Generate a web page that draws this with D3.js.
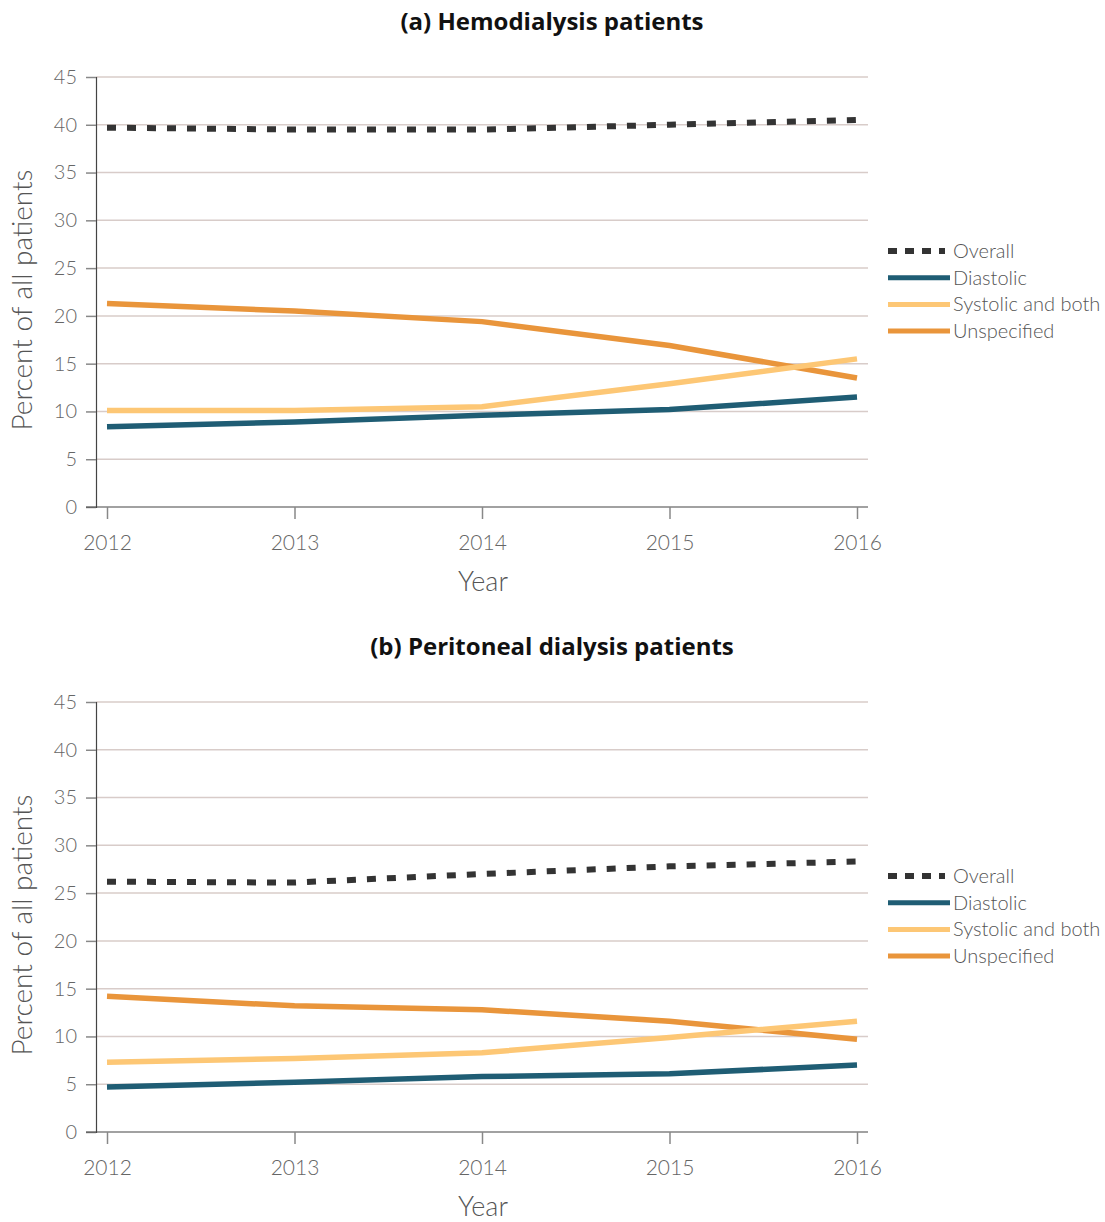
<!DOCTYPE html>
<html>
<head>
<meta charset="utf-8">
<script src="https://cdn.jsdelivr.net/npm/d3@7"></script>
<style>
  body { margin: 0; background: #fff; }
  svg { display: block; }
</style>
</head>
<body>
<svg id="chart" width="1105" height="1222"></svg>
<script>
// Years on the x axis
const years = [2012, 2013, 2014, 2015, 2016];
const yTicks = [0, 5, 10, 15, 20, 25, 30, 35, 40, 45];

// Series names, in legend order
const seriesNames = ["Overall", "Diastolic", "Systolic and both", "Unspecified"];

// (a) Hemodialysis patients, percent of all patients
const hdOverall     = [39.7, 39.5, 39.5, 40.0, 40.5];
const hdDiastolic   = [8.4, 8.9, 9.6, 10.2, 11.5];
const hdSystolic    = [10.1, 10.1, 10.5, 12.9, 15.5];
const hdUnspecified = [21.3, 20.5, 19.4, 16.9, 13.5];

// (b) Peritoneal dialysis patients, percent of all patients
const pdOverall     = [26.2, 26.1, 27.0, 27.8, 28.3];
const pdDiastolic   = [4.7, 5.2, 5.8, 6.1, 7.0];
const pdSystolic    = [7.3, 7.7, 8.3, 9.9, 11.6];
const pdUnspecified = [14.2, 13.2, 12.8, 11.6, 9.7];

const panelTitles = ["(a) Hemodialysis patients", "(b) Peritoneal dialysis patients"];

const colors = {
  "Overall": "#333333",
  "Diastolic": "#1f5d74",
  "Systolic and both": "#fdc775",
  "Unspecified": "#e9953b"
};

const panels = [
  { title: panelTitles[0], series: [hdOverall, hdDiastolic, hdSystolic, hdUnspecified] },
  { title: panelTitles[1], series: [pdOverall, pdDiastolic, pdSystolic, pdUnspecified] }
];

const svg = d3.select("#chart");
const thinFont = "Lato, 'Open Sans', sans-serif";

const x = d3.scaleLinear().domain([2012, 2016]).range([107, 857]);

panels.forEach((p, i) => {
  const top = 77 + i * 625;
  const bottom = top + 430;
  const y = d3.scaleLinear().domain([0, 45]).range([bottom, top]);
  const g = svg.append("g");

  // Panel title
  g.append("text")
    .attr("x", 552).attr("y", top - 47)
    .attr("text-anchor", "middle")
    .attr("font-family", "'Open Sans', sans-serif")
    .attr("font-weight", "bold")
    .attr("font-size", 24)
    .attr("fill", "#111")
    .text(p.title);

  // Horizontal gridlines
  g.append("g").selectAll("line").data(yTicks.filter(d => d > 0)).join("line")
    .attr("x1", 96).attr("x2", 868)
    .attr("y1", d => y(d)).attr("y2", d => y(d))
    .attr("stroke", "#d8ccc9").attr("stroke-width", 1.5);

  // Y axis
  const yAxis = g.append("g").attr("transform", "translate(96,0)")
    .call(d3.axisLeft(y).tickValues(yTicks).tickSize(10).tickPadding(9));
  yAxis.select(".domain").attr("stroke", "#444").attr("stroke-width", 1.2);
  yAxis.selectAll(".tick line").attr("stroke", "#888").attr("stroke-width", 1.5);
  yAxis.selectAll(".tick text")
    .attr("font-family", thinFont).attr("font-weight", 300)
    .attr("font-size", 20).attr("fill", "#666");

  // X axis
  const xAxis = g.append("g").attr("transform", `translate(0,${bottom})`)
    .call(d3.axisBottom(x).tickValues(years).tickFormat(d3.format("d")).tickSize(12).tickPadding(16));
  xAxis.select(".domain").attr("d", `M86,0H868`).attr("stroke", "#444").attr("stroke-width", 1.2);
  xAxis.selectAll(".tick line").attr("stroke", "#888").attr("stroke-width", 1.5);
  xAxis.selectAll(".tick text")
    .attr("font-family", thinFont).attr("font-weight", 300)
    .attr("font-size", 21).attr("fill", "#666");

  // Axis titles
  g.append("text")
    .attr("x", 483).attr("y", bottom + 84)
    .attr("text-anchor", "middle")
    .attr("font-family", thinFont).attr("font-weight", 300)
    .attr("font-size", 27).attr("fill", "#555")
    .text("Year");
  g.append("text")
    .attr("transform", `translate(32,${(top + bottom) / 2 + 8}) rotate(-90)`)
    .attr("text-anchor", "middle")
    .attr("font-family", thinFont).attr("font-weight", 300)
    .attr("font-size", 28).attr("fill", "#555")
    .text("Percent of all patients");

  // Lines: overall drawn last so it sits on top
  const line = d3.line().x((d, j) => x(years[j])).y(d => y(d));
  [3, 2, 1, 0].forEach(k => {
    const name = seriesNames[k];
    g.append("path")
      .datum(p.series[k])
      .attr("d", line)
      .attr("fill", "none")
      .attr("stroke", colors[name])
      .attr("stroke-width", k === 0 ? 6 : 5.5)
      .attr("stroke-dasharray", k === 0 ? "9,11" : null);
  });

  // Legend
  const lg = g.append("g");
  seriesNames.forEach((name, k) => {
    const ly = top + 174 + k * 26.7;
    lg.append("line")
      .attr("x1", 888).attr("x2", name === "Overall" ? 945 : 950)
      .attr("y1", ly).attr("y2", ly)
      .attr("stroke", colors[name])
      .attr("stroke-width", name === "Overall" ? 6 : 5)
      .attr("stroke-dasharray", name === "Overall" ? "9,8" : null);
    lg.append("text")
      .attr("x", 953).attr("y", ly)
      .attr("dy", "0.35em")
      .attr("font-family", thinFont).attr("font-weight", 300)
      .attr("font-size", 20).attr("fill", "#555")
      .text(name);
  });
});
</script>
</body>
</html>
